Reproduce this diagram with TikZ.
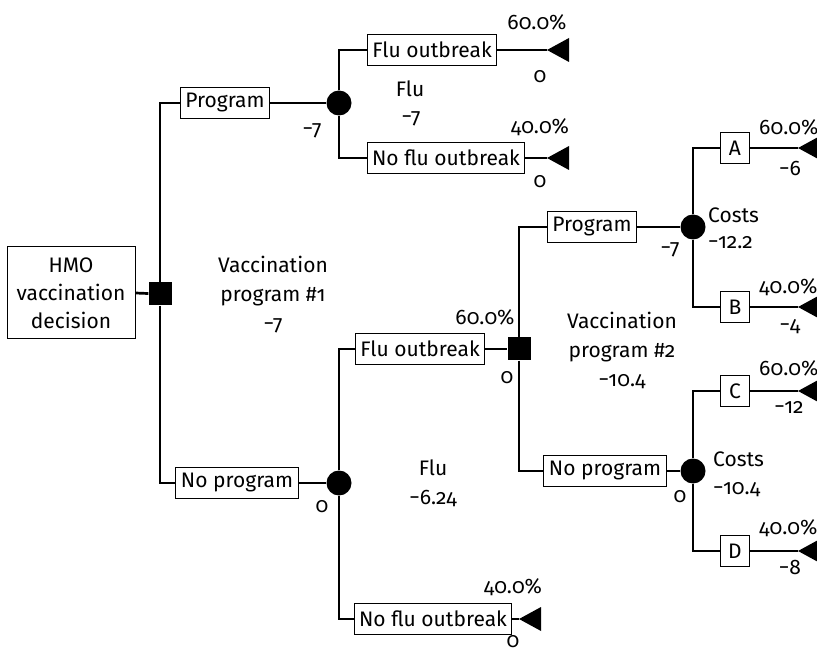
\documentclass[tikz,border=0pt]{standalone}
\usepackage{fontspec}
\setmainfont{Fira Sans}[Numbers=OldStyle]
\begin{document}
\begin{tikzpicture}[x=1pt,y=-1pt,
  box/.style={draw,line width=1pt,fill=white,inner xsep=5pt,inner ysep=0pt,minimum height=31pt,font=\fontsize{21}{24}\selectfont},
  small/.style={minimum width=29pt},
  dec/.style={fill=black,minimum size=23pt,inner sep=0pt},
  chance/.style={circle,fill=black,minimum size=25pt,inner sep=0pt},
  lbl/.style={inner sep=0pt,font=\fontsize{21}{24}\selectfont},
  conn/.style={line width=2.7pt},
  term/.style={fill=black}]
\useasboundingbox[fill=white] (0,0) rectangle (817,652);
% nodes
\node[box,align=center,minimum width=128pt,minimum height=92pt,font=\fontsize{21}{28}\selectfont] (root) at (71,293) {HMO\\vaccination\\decision};
\node[dec] (d1) at (160,294) {};
\node[box] (prog1) at (225,103) {Program};
\node[chance] (c1) at (339,103) {};
\node[box] (flu1) at (432,50) {Flu outbreak};
\node[box] (noflu1) at (446,158) {No flu outbreak};
\coordinate (t1) at (547,50);
\coordinate (t2) at (547,158);
\node[box] (noprog1) at (237,483) {No program};
\node[chance] (c2) at (339,483) {};
\node[box] (flu2) at (420,349) {Flu outbreak};
\node[dec] (d2) at (519,349) {};
\node[box] (noflu2) at (433,619) {No flu outbreak};
\coordinate (t3) at (519,619);
\node[box] (prog2) at (592,227) {Program};
\node[chance] (c3) at (693,227) {};
\node[box,small] (A) at (735,148) {A};
\node[box,small] (B) at (735,307) {B};
\coordinate (tA) at (798,148);
\coordinate (tB) at (798,307);
\node[box] (noprog2) at (605,471) {No program};
\node[chance] (c4) at (693,471) {};
\node[box,small] (C) at (735,391) {C};
\node[box,small] (D) at (735,551) {D};
\coordinate (tC) at (798,391);
\coordinate (tD) at (798,551);
% connectors
\draw[conn] (root.east) -- (d1);
\draw[conn] (d1) |- (prog1.west);
\draw[conn] (d1) |- (noprog1.west);
\draw[conn] (prog1.east) -- (c1);
\draw[conn] (c1) |- (flu1.west);
\draw[conn] (c1) |- (noflu1.west);
\draw[conn] (flu1.east) -- (t1);
\draw[conn] (noflu1.east) -- (t2);
\draw[conn] (noprog1.east) -- (c2);
\draw[conn] (c2) |- (flu2.west);
\draw[conn] (c2) |- (noflu2.west);
\draw[conn] (flu2.east) -- (d2);
\draw[conn] (noflu2.east) -- (t3);
\draw[conn] (d2) |- (prog2.west);
\draw[conn] (d2) |- (noprog2.west);
\draw[conn] (prog2.east) -- (c3);
\draw[conn] (c3) |- (A.west);
\draw[conn] (c3) |- (B.west);
\draw[conn] (A.east) -- (tA);
\draw[conn] (B.east) -- (tB);
\draw[conn] (noprog2.east) -- (c4);
\draw[conn] (c4) |- (C.west);
\draw[conn] (c4) |- (D.west);
\draw[conn] (C.east) -- (tC);
\draw[conn] (D.east) -- (tD);
% terminal triangles
\foreach \t in {t1,t2,t3,tA,tB,tC,tD}
  \fill[term] (\t) -- ++(22,-12) -- ++(0,24) -- cycle;
% labels
\node[lbl] (l1) at (537,22) {60.0\%};
\node[lbl] (l2) at (540,77) {0};
\node[lbl] (l3) at (410,89) {Flu};
\node[lbl] (l4) at (411,119) {−7};
\node[lbl] (l5) at (312,131) {−7};
\node[lbl] (l6) at (540,127) {40.0\%};
\node[lbl] (l7) at (540,182) {0};
\node[lbl,align=center,font=\fontsize{21}{29}\selectfont] (vac1) at (273,295) {Vaccination\\program \#1\\−7};
\node[lbl] (l8) at (322,507) {0};
\node[lbl] (l9) at (433,468) {Flu};
\node[lbl] (l10) at (433,498) {−6.24};
\node[lbl] (l11) at (485,317) {60.0\%};
\node[lbl] (l12) at (507,378) {0};
\node[lbl] (l13) at (513,587) {40.0\%};
\node[lbl] (l14) at (513,642) {0};
\node[lbl,align=center,font=\fontsize{21}{29}\selectfont] (vac2) at (622,350) {Vaccination\\program \#2\\−10.4};
\node[lbl] (l15) at (670,250) {−7};
\node[lbl,anchor=west] (l16) at (708,215) {Costs};
\node[lbl,anchor=west] (l17) at (708,243) {−12.2};
\node[lbl,anchor=west] (l18) at (759,127) {60.0\%};
\node[lbl] (l19) at (790,168) {−6};
\node[lbl,anchor=west] (l20) at (759,287) {40.0\%};
\node[lbl] (l21) at (790,327) {−4};
\node[lbl,anchor=west] (l22) at (759,368) {60.0\%};
\node[lbl] (l23) at (789,407) {−12};
\node[lbl,anchor=west] (l24) at (713,459) {Costs};
\node[lbl,anchor=west] (l25) at (713,490) {−10.4};
\node[lbl] (l26) at (680,497) {0};
\node[lbl,anchor=west] (l27) at (759,528) {40.0\%};
\node[lbl] (l28) at (790,567) {−8};
\end{tikzpicture}
\end{document}
